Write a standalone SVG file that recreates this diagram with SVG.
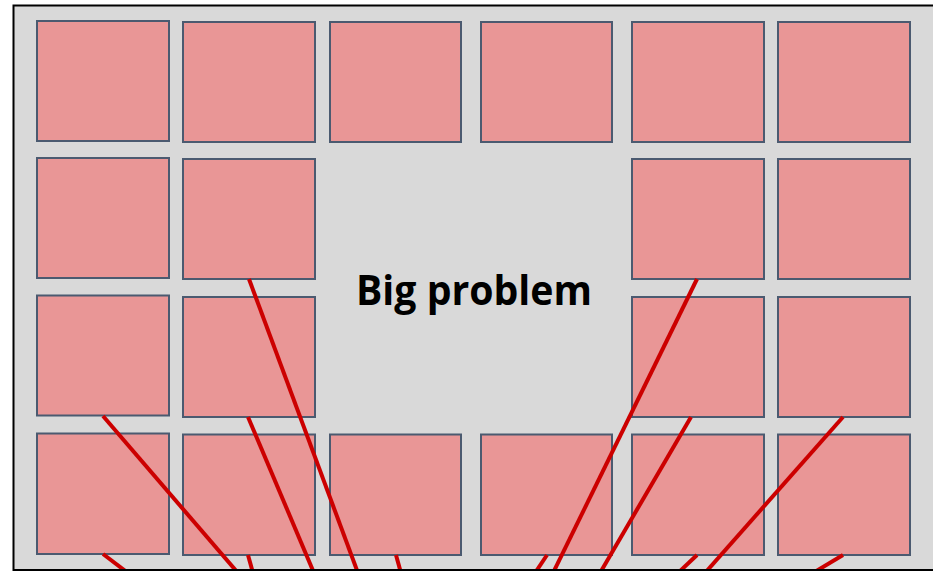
<svg xmlns="http://www.w3.org/2000/svg" width="933" height="571" viewBox="0 0 933 571">
<style>
.box{fill:#e99696;stroke:#4b5a70;stroke-width:2}
.ln{stroke:#cc0000;stroke-width:4;fill:none}
.t{font-family:"Open Sans","Liberation Sans",sans-serif;font-weight:bold;font-size:42px;fill:#000}
</style>
<defs><clipPath id="c"><rect x="14" y="6" width="919" height="563"/></clipPath></defs>
<rect x="0" y="0" width="933" height="571" fill="#ffffff"/>
<rect x="13.5" y="5.5" width="930" height="564.5" fill="#d9d9d9" stroke="#000" stroke-width="2"/>
<g id="nodes">
<g id="r1c1"><rect class="box" x="37" y="21" width="132" height="120"/></g>
<g id="r1c2"><rect class="box" x="183" y="22" width="132" height="120"/></g>
<g id="r1c3"><rect class="box" x="330" y="22" width="131" height="120"/></g>
<g id="r1c4"><rect class="box" x="481" y="22" width="131" height="120"/></g>
<g id="r1c5"><rect class="box" x="632" y="22" width="132" height="120"/></g>
<g id="r1c6"><rect class="box" x="778" y="22" width="132" height="120"/></g>
<g id="r2c1"><rect class="box" x="37" y="158" width="132" height="120"/></g>
<g id="r2c2"><rect class="box" x="183" y="159" width="132" height="120"/></g>
<g id="r2c5"><rect class="box" x="632" y="159" width="132" height="120"/></g>
<g id="r2c6"><rect class="box" x="778" y="159" width="132" height="120"/></g>
<g id="r3c1"><rect class="box" x="37" y="295.5" width="132" height="120"/></g>
<g id="r3c2"><rect class="box" x="183" y="297" width="132" height="120"/></g>
<g id="r3c5"><rect class="box" x="632" y="297" width="132" height="120"/></g>
<g id="r3c6"><rect class="box" x="778" y="297" width="132" height="120"/></g>
<g id="r4c1"><rect class="box" x="37" y="433.5" width="132" height="120.5"/></g>
<g id="r4c2"><rect class="box" x="183" y="434.5" width="132" height="120.5"/></g>
<g id="r4c3"><rect class="box" x="330" y="434.5" width="131" height="120.5"/></g>
<g id="r4c4"><rect class="box" x="481" y="434.5" width="131" height="120.5"/></g>
<g id="r4c5"><rect class="box" x="632" y="434.5" width="132" height="120.5"/></g>
<g id="r4c6"><rect class="box" x="778" y="434.5" width="132" height="120.5"/></g>
<g id="label"><text class="t" x="474" y="305" text-anchor="middle" textLength="236" lengthAdjust="spacingAndGlyphs">Big problem</text></g>
</g>
<g id="connectors" clip-path="url(#c)">
<line class="ln" x1="103" y1="416" x2="238" y2="573"/>
<line class="ln" x1="249" y1="279" x2="358" y2="573"/>
<line class="ln" x1="248" y1="417" x2="314" y2="573"/>
<line class="ln" x1="697" y1="279" x2="553" y2="573"/>
<line class="ln" x1="691" y1="417" x2="600" y2="573"/>
<line class="ln" x1="843" y1="417" x2="705" y2="573"/>
<line class="ln" x1="103" y1="554" x2="128" y2="573"/>
<line class="ln" x1="248" y1="555" x2="253" y2="573"/>
<line class="ln" x1="396" y1="555" x2="401" y2="573"/>
<line class="ln" x1="547" y1="555" x2="535" y2="573"/>
<line class="ln" x1="697" y1="555" x2="678" y2="573"/>
<line class="ln" x1="843" y1="555" x2="813" y2="573"/>
</g>
</svg>
